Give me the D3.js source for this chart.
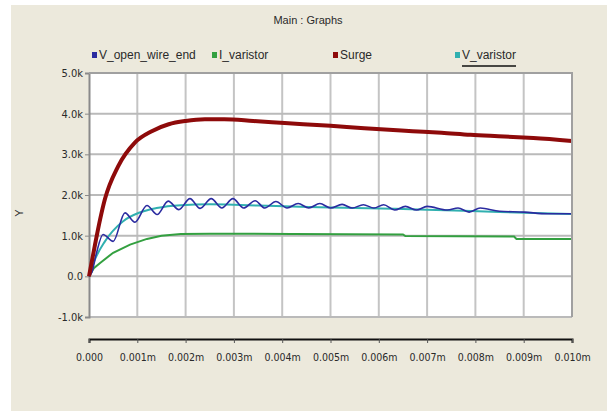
<!DOCTYPE html>
<html>
<head>
<meta charset="utf-8">
<script src="https://cdn.jsdelivr.net/npm/d3@7/dist/d3.min.js"></script>
<style>
  html, body { margin: 0; padding: 0; background: #ffffff; }
  svg { display: block; }
  text { font-family: "Liberation Sans", Arial, sans-serif; fill: #2a2a2a; }
  .tick text { font-family: "DejaVu Sans", sans-serif; font-stretch: condensed; }
</style>
</head>
<body>
<svg id="chart" width="607" height="412"></svg>
<script>
// Time in ms, values in kV / kA
const surgeT = [0, 0.12, 0.23, 0.33, 0.6, 0.95, 1.3, 1.65, 2.0, 2.4, 2.8, 3.4, 4.05, 5.0, 5.7, 6.7, 7.3, 7.9, 8.6, 9.2, 10.0];
const surgeV = [0, 0.75, 1.4, 1.9, 2.7, 3.29, 3.57, 3.74, 3.82, 3.86, 3.86, 3.82, 3.77, 3.70, 3.64, 3.57, 3.53, 3.48, 3.44, 3.40, 3.33];

const varistorT = [0, 0.1, 0.33, 0.7, 1.05, 1.4, 1.9, 2.5, 3.0, 3.5, 4.2, 5.0, 5.5, 6.3, 7.0, 8.5, 9.2, 10.0];
const varistorV = [0, 0.35, 0.86, 1.35, 1.57, 1.68, 1.75, 1.77, 1.76, 1.74, 1.72, 1.69, 1.68, 1.66, 1.64, 1.58, 1.56, 1.53];

const openEndT = [0, 0.06, 0.15, 0.29, 0.5, 0.745, 0.95, 1.2, 1.41, 1.64, 1.86, 2.09, 2.3, 2.53, 2.75, 2.98, 3.2, 3.44, 3.64, 3.87, 4.1, 4.33, 4.55, 4.78, 5.0, 5.24, 5.45, 5.68, 5.9, 6.1, 6.33, 6.55, 6.78, 7.0, 7.42, 7.64, 7.87, 8.1, 8.5, 9.0, 9.5, 10.0];
const openEndV = [0, 0.1, 0.55, 1.03, 0.86, 1.56, 1.33, 1.74, 1.52, 1.85, 1.64, 1.91, 1.67, 1.91, 1.68, 1.91, 1.68, 1.86, 1.68, 1.84, 1.68, 1.79, 1.68, 1.79, 1.68, 1.77, 1.68, 1.76, 1.68, 1.76, 1.63, 1.72, 1.63, 1.72, 1.63, 1.68, 1.58, 1.68, 1.60, 1.58, 1.54, 1.54];

const currentT = [0, 0.1, 0.23, 0.5, 0.85, 1.2, 1.5, 1.9, 2.5, 4.2, 6.5, 6.55, 8.8, 8.85, 10.0];
const currentV = [0, 0.2, 0.33, 0.58, 0.78, 0.92, 1.0, 1.04, 1.05, 1.04, 1.03, 0.99, 0.98, 0.92, 0.92];

const seriesNames = ["V_open_wire_end", "I_varistor", "Surge", "V_varistor"];
const seriesColors = ["#2b2ba0", "#33a040", "#8e0a0a", "#30b0b0"];

const xTicks = [0, 1, 2, 3, 4, 5, 6, 7, 8, 9, 10];
const xTickLabels = ["0.000", "0.001m", "0.002m", "0.003m", "0.004m", "0.005m", "0.006m", "0.007m", "0.008m", "0.009m", "0.010m"];
const yTicks = [-1, 0, 1, 2, 3, 4, 5];
const yTickLabels = ["-1.0k", "0.0", "1.0k", "2.0k", "3.0k", "4.0k", "5.0k"];

const svg = d3.select("#chart");

// window panel
svg.append("rect").attr("x", 11).attr("y", 5).attr("width", 596).attr("height", 406).attr("fill", "#ece9dc");

const plot = { left: 89, right: 572, top: 73, bottom: 317 };
const x = d3.scaleLinear().domain([0, 10]).range([plot.left, plot.right]);
const y = d3.scaleLinear().domain([-1, 5]).range([plot.bottom, plot.top]);

svg.append("text").attr("x", 308).attr("y", 24).attr("text-anchor", "middle")
  .style("font-size", "11px").text("Main : Graphs");

// plot background
svg.append("rect").attr("x", plot.left).attr("y", plot.top)
  .attr("width", plot.right - plot.left).attr("height", plot.bottom - plot.top).attr("fill", "#ffffff");

// grid
const grid = svg.append("g");
grid.selectAll("line.v").data(xTicks.slice(1)).join("line")
  .attr("x1", d => x(d)).attr("x2", d => x(d)).attr("y1", plot.top).attr("y2", plot.bottom)
  .attr("stroke", "#c4c4c4").attr("stroke-width", 2);
grid.selectAll("line.h").data(yTicks).join("line")
  .attr("x1", plot.left).attr("x2", plot.right).attr("y1", d => y(d)).attr("y2", d => y(d))
  .attr("stroke", "#bababa").attr("stroke-width", 2);

// y axis
const yAxis = d3.axisLeft(y).tickValues(yTicks).tickFormat((d, i) => yTickLabels[i]).tickSize(4).tickPadding(2);
const gy = svg.append("g").attr("transform", `translate(${plot.left},0)`).call(yAxis);
gy.attr("font-family", null).attr("font-size", null);
gy.select(".domain").attr("stroke", "#8a8a8a").attr("stroke-width", 2);
gy.selectAll(".tick line").attr("stroke", "#8a8a8a");
gy.selectAll(".tick text").style("font-size", "11px").attr("fill", "#2a2a2a");

svg.append("text").attr("transform", "translate(23,213) rotate(-90)").attr("text-anchor", "middle")
  .style("font-size", "11px").text("Y");

// x axis below the plot
const xAxis = d3.axisBottom(x).tickValues(xTicks).tickFormat((d, i) => xTickLabels[i]).tickSize(4).tickPadding(11);
const gx = svg.append("g").attr("transform", "translate(0,339)").call(xAxis);
gx.attr("font-family", null).attr("font-size", null);
gx.select(".domain").attr("stroke", "#111").attr("stroke-width", 2);
gx.selectAll(".tick line").attr("stroke", "#555");
gx.selectAll(".tick text").style("font-size", "10.5px").attr("fill", "#2a2a2a");

// series
const line = d3.line().x(d => x(d[0])).y(d => y(d[1]));
const smooth = d3.line().x(d => x(d[0])).y(d => y(d[1])).curve(d3.curveMonotoneX);
const zip = (ts, vs) => ts.map((t, i) => [t, vs[i]]);

svg.append("path").datum(zip(currentT, currentV)).attr("d", line)
  .attr("fill", "none").attr("stroke", seriesColors[1]).attr("stroke-width", 2);
svg.append("path").datum(zip(varistorT, varistorV)).attr("d", smooth)
  .attr("fill", "none").attr("stroke", seriesColors[3]).attr("stroke-width", 2);
svg.append("path").datum(zip(openEndT, openEndV)).attr("d", smooth)
  .attr("fill", "none").attr("stroke", seriesColors[0]).attr("stroke-width", 1.6);
svg.append("path").datum(zip(surgeT, surgeV)).attr("d", smooth)
  .attr("fill", "none").attr("stroke", seriesColors[2]).attr("stroke-width", 4);

// plot frame (top and right edges)
svg.append("path").attr("d", `M${plot.left},${plot.top}H${plot.right}V${plot.bottom}`)
  .attr("fill", "none").attr("stroke", "#a0a0a0").attr("stroke-width", 2);

// legend
const legendX = [92, 212, 333, 455];
const lg = svg.append("g");
seriesNames.forEach((name, i) => {
  lg.append("rect").attr("x", legendX[i]).attr("y", 52).attr("width", 5).attr("height", 6).attr("fill", seriesColors[i]);
  const t = lg.append("text").attr("x", legendX[i] + 7).attr("y", 59).style("font-size", "12px").text(name);
  if (i === 3) {
    const w = t.node().getComputedTextLength();
    lg.append("line").attr("x1", legendX[i] + 7).attr("x2", legendX[i] + 7 + w).attr("y1", 66).attr("y2", 66)
      .attr("stroke", "#111").attr("stroke-width", 1.5);
  }
});
</script>
</body>
</html>
